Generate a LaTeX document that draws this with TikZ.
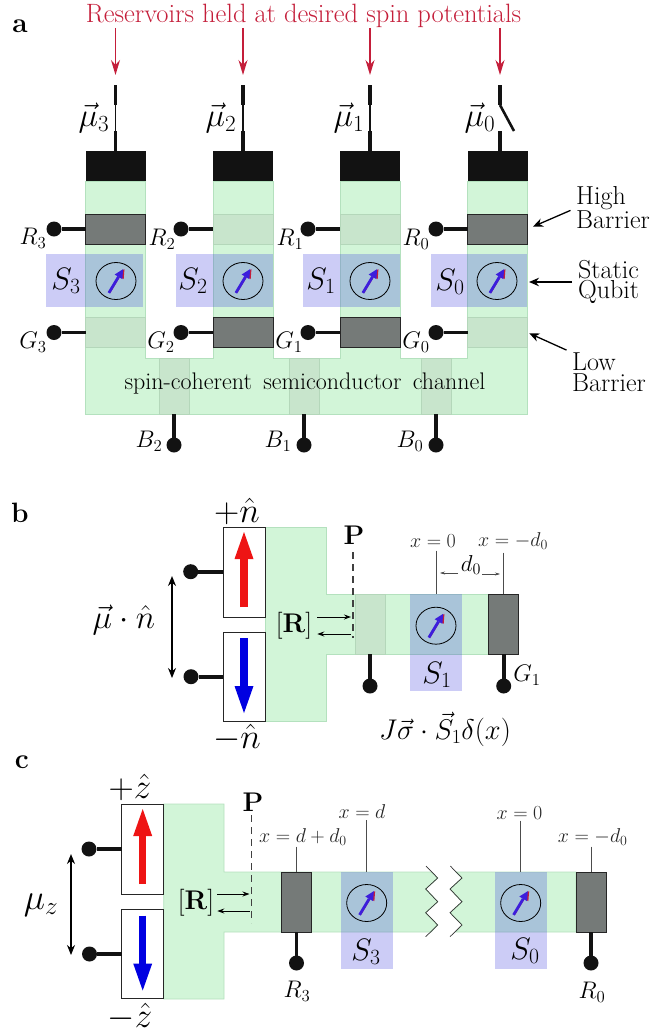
\documentclass[tikz,border=0pt]{standalone}
\usepackage{fix-cm}
\usepackage{xcolor}
\usepackage{tikz}
\usetikzlibrary{arrows.meta,shapes.geometric}
\definecolor{chgreen}{RGB}{210,245,216}
\definecolor{chedge}{RGB}{180,225,190}
\definecolor{lowgate}{RGB}{200,229,204}
\definecolor{lowedge}{RGB}{180,215,186}
\definecolor{highgate}{RGB}{117,122,120}
\definecolor{qubitblue}{RGB}{50,50,220}
\definecolor{resred}{RGB}{196,30,58}
\definecolor{spinred}{RGB}{238,20,20}
\definecolor{spinblue}{RGB}{0,0,225}
\definecolor{dialblue}{RGB}{60,30,220}

\begin{document}
\begin{tikzpicture}[
  x=1pt, y=-1pt,
  channel/.style={fill=chgreen, draw=chedge, line width=0.8pt},
  barbox/.style={rectangle, minimum width=60pt, minimum height=30pt, inner sep=0pt, outer sep=0pt},
  high/.style={barbox, fill=highgate, draw=black!85, line width=0.9pt},
  low/.style={barbox, fill=lowgate, draw=lowedge, line width=0.6pt},
  capbox/.style={barbox, fill=black!93},
  qubit/.style={rectangle, fill=qubitblue, fill opacity=0.25, inner sep=0pt, outer sep=0pt},
  dial/.style={ellipse, draw, line width=0.8pt, minimum width=40pt, minimum height=37pt, inner sep=0pt, outer sep=0pt},
  spin/.style={line width=2.8pt, dialblue, -{Triangle[width=9pt,length=9pt,line width=0pt]}, shorten <=5pt, shorten >=5pt,
               preaction={draw=resred, transform canvas={xshift=1.3pt}}},
  dot/.style={circle, fill=black!93, minimum size=15pt, inner sep=0pt, outer sep=0pt},
  wire/.style={line width=3.8pt, black!93},
  thinwire/.style={line width=1.4pt, black!93},
  resarrow/.style={-{Stealth[length=15pt,width=9pt]}, line width=1.3pt, resred},
  pointer/.style={-{Stealth[length=10pt,width=8.5pt]}, line width=1.3pt},
  darrow/.style={{Stealth[length=10pt,width=8pt]}-{Stealth[length=10pt,width=8pt]}, line width=1.3pt},
  rarrow/.style={-{Stealth[length=7pt,width=5pt]}, line width=1pt},
  dimarrow/.style={-{Stealth[length=5pt,width=3pt]}, line width=0.5pt, black!70},
  tick/.style={line width=1pt, black!70},
  pline/.style={dashed, dash pattern=on 7pt off 5pt, line width=1.1pt, black!75},
  spinbox/.style={rectangle, draw=black!85, fill=white, line width=0.9pt, minimum width=42pt, minimum height=90pt, inner sep=0pt, outer sep=0pt},
  uparrow/.style={line width=7.5pt, spinred, -{Triangle[width=19pt,length=27pt,line width=0pt]}, shorten <=10pt, shorten >=5pt},
  downarrow/.style={line width=7.5pt, spinblue, -{Triangle[width=19pt,length=27pt,line width=0pt]}, shorten <=6pt, shorten >=8pt},
  panel/.style={font=\fontsize{28}{28}\selectfont\bfseries, inner sep=0pt},
  plain/.style={font=\fontsize{26}{20.5}\selectfont, align=left, inner sep=0pt},
  bigmath/.style={font=\fontsize{31}{31}\selectfont, inner sep=0pt},
  hatlab/.style={font=\fontsize{35}{35}\selectfont, inner sep=0pt},
  gatelab/.style={font=\fontsize{24}{24}\selectfont, inner sep=0pt},
  xlab/.style={font=\fontsize{20}{20}\selectfont, inner sep=0pt, black!85},
  rlab/.style={font=\fontsize{27}{27}\selectfont, inner sep=0pt},
]
  \useasboundingbox (0,0) rectangle (649,1034);

  %%% panel a
  \node[panel] (la) at (20,26) {a};
  \fill[channel] (85.5,181) -- (145.5,181) -- (145.5,358) -- (213,358) -- (213,181) -- (273,181)
    -- (273,358) -- (340,358) -- (340,181) -- (400,181) -- (400,358) -- (467.5,358) -- (467.5,181)
    -- (527,181) -- (527,414) -- (85.5,414) -- cycle;

  % Reservoir caps
  \node[capbox] (cap3) at (115.5,166) {};
  \node[capbox] (cap2) at (243,166) {};
  \node[capbox] (cap1) at (370,166) {};
  \node[capbox] (cap0) at (497.5,166) {};

  % Upper barriers
  \node[high] (rb3) at (115.5,229) {};
  \node[low] (rb2) at (243,229) {};
  \node[low] (rb1) at (370,229) {};
  \node[high] (rb0) at (497.5,229) {};

  % Lower barriers
  \node[low] (gb3) at (115.5,332.5) {};
  \node[high] (gb2) at (243,332.5) {};
  \node[high] (gb1) at (370,332.5) {};
  \node[low] (gb0) at (497.5,332.5) {};

  % Channel barriers
  \node[low, minimum width=30pt, minimum height=56pt] (bb2) at (174,386) {};
  \node[low, minimum width=30pt, minimum height=56pt] (bb1) at (304,386) {};
  \node[low, minimum width=30pt, minimum height=56pt] (bb0) at (436,386) {};

  % Qubits
  \node[qubit, minimum width=97pt, minimum height=53pt] (sq3) at (94.5,280.5) {};
  \node[qubit, minimum width=97pt, minimum height=53pt] (sq2) at (224.5,280.5) {};
  \node[qubit, minimum width=97pt, minimum height=53pt] (sq1) at (351.5,280.5) {};
  \node[qubit, minimum width=96pt, minimum height=53pt] (sq0) at (479,280.5) {};
  \node[dial] (dl3) at (116,281) {};
  \node[dial] (dl2) at (243,281) {};
  \node[dial] (dl1) at (370,281) {};
  \node[dial] (dl0) at (497,281) {};
  \draw[spin] (dl3.239) -- (dl3.59);
  \draw[spin] (dl2.239) -- (dl2.59);
  \draw[spin] (dl1.239) -- (dl1.59);
  \draw[spin] (dl0.239) -- (dl0.59);
  \node[bigmath] (ls3) at (66,281) {$S_3$};
  \node[bigmath] (ls2) at (193,281) {$S_2$};
  \node[bigmath] (ls1) at (321,281) {$S_1$};
  \node[bigmath] (ls0) at (450,282) {$S_0$};

  % Gate contacts
  \node[dot] (rd3) at (54,229) {};
  \node[dot] (rd2) at (181,229) {};
  \node[dot] (rd1) at (308,229) {};
  \node[dot] (rd0) at (436,229) {};
  \node[dot] (gd3) at (54,332.5) {};
  \node[dot] (gd2) at (181,332.5) {};
  \node[dot] (gd1) at (308,332.5) {};
  \node[dot] (gd0) at (436,332.5) {};
  \node[dot] (bd2) at (174,445) {};
  \node[dot] (bd1) at (304,445) {};
  \node[dot] (bd0) at (436,445) {};
  \draw[wire] (rd3) -- (rb3);
  \draw[wire] (rd2) -- (rb2);
  \draw[wire] (rd1) -- (rb1);
  \draw[wire] (rd0) -- (rb0);
  \draw[wire] (gd3) -- (gb3);
  \draw[wire] (gd2) -- (gb2);
  \draw[wire] (gd1) -- (gb1);
  \draw[wire] (gd0) -- (gb0);
  \draw[wire] (bb2.south) -- (bd2);
  \draw[wire] (bb1.south) -- (bd1);
  \draw[wire] (bb0.south) -- (bd0);
  \node[gatelab] (lr3) at (33,238) {$R_3$};
  \node[gatelab] (lr2) at (162,239) {$R_2$};
  \node[gatelab] (lr1) at (290,239) {$R_1$};
  \node[gatelab] (lr0) at (416,239) {$R_0$};
  \node[gatelab] (lg3) at (33,342) {$G_3$};
  \node[gatelab] (lg2) at (161,342) {$G_2$};
  \node[gatelab] (lg1) at (289,342) {$G_1$};
  \node[gatelab] (lg0) at (416,342) {$G_0$};
  \node[gatelab] (lb2) at (149,441) {$B_2$};
  \node[gatelab] (lb1) at (278,441) {$B_1$};
  \node[gatelab] (lb0) at (410,441) {$B_0$};
  \node[font=\fontsize{24}{24}\selectfont, inner sep=0pt] (chan) at (305,384) {spin-coherent\, semiconductor\, channel};

  % Reservoir leads
  \coordinate (ta3) at (115.5,85);
  \coordinate (tb3) at (115.5,105);
  \coordinate (tc3) at (115.5,131);
  \coordinate (ta2) at (243,85);
  \coordinate (tb2) at (243,105);
  \coordinate (tc2) at (243,131);
  \coordinate (ta1) at (370,85);
  \coordinate (tb1) at (370,105);
  \coordinate (tc1) at (370,131);
  \coordinate (ta0) at (500,85);
  \coordinate (tb0) at (500,105);
  \coordinate (tc0) at (500,131);
  \coordinate (sw0) at (514,131);
  \draw[wire] (ta3) -- (tb3);
  \draw[thinwire] (tb3) -- (tc3);
  \draw[wire] (tc3) -- (cap3.north -| tc3);
  \draw[wire] (ta2) -- (tb2);
  \draw[thinwire] (tb2) -- (tc2);
  \draw[wire] (tc2) -- (cap2.north -| tc2);
  \draw[wire] (ta1) -- (tb1);
  \draw[thinwire] (tb1) -- (tc1);
  \draw[wire] (tc1) -- (cap1.north -| tc1);
  \draw[wire] (ta0) -- (tb0);
  \draw[line width=2.6pt, black!93] (tb0) -- (sw0);
  \draw[wire] (tc0) -- (cap0.north -| tc0);
  \node[font=\fontsize{33}{33}\selectfont, inner sep=0pt] (mu3) at (94,118) {$\vec{\mu}_3$};
  \node[font=\fontsize{33}{33}\selectfont, inner sep=0pt] (mu2) at (221,118) {$\vec{\mu}_2$};
  \node[font=\fontsize{33}{33}\selectfont, inner sep=0pt] (mu1) at (349,118) {$\vec{\mu}_1$};
  \node[font=\fontsize{33}{33}\selectfont, inner sep=0pt] (mu0) at (480,118) {$\vec{\mu}_0$};

  % Title and its arrows
  \node[font=\fontsize{26.5}{26.5}\selectfont, inner sep=0pt, text=resred] (title) at (303.5,16) {Reservoirs held at desired spin potentials};
  \draw[resarrow, shorten >=10pt] (title.south -| ta3) -- (ta3);
  \draw[resarrow, shorten >=10pt] (title.south -| ta2) -- (ta2);
  \draw[resarrow, shorten >=10pt] (title.south -| ta1) -- (ta1);
  \draw[resarrow, shorten >=10pt] (title.south -| ta0) -- (ta0);

  % Side labels
  \node[plain, anchor=west] (lhigh) at (576,208) {High\\Barrier};
  \node[plain, anchor=west] (lstat) at (578,282) {Static\\Qubit};
  \node[plain, anchor=west] (llow) at (572,372) {Low\\Barrier};
  \draw[pointer, shorten <=6pt, shorten >=6pt] (lhigh.west) -- (rb0.east);
  \draw[pointer, shorten <=6pt, shorten >=2pt] (lstat.west) -- (sq0.east |- lstat.west);
  \draw[pointer, shorten <=6pt, shorten >=2pt] (llow.north west) -- (gb0.east);

  %%% panel b
  \node[panel] (lbb) at (20,513) {b};
  \fill[channel] (265,527) -- (326,527) -- (326,594) -- (489,594) -- (489,654) -- (326,654) -- (326,721) -- (265,721) -- cycle;
  \node[spinbox] (bup) at (244,572) {};
  \node[spinbox, minimum height=89pt] (bdown) at (244,676.5) {};
  \draw[uparrow] (bup.south) -- (bup.north);
  \draw[downarrow] (bdown.north) -- (bdown.south);
  \node[low, minimum width=30pt, minimum height=60pt] (blow) at (370,624) {};
  \node[high, minimum width=30pt, minimum height=60pt] (bhigh) at (503.7,624) {};
  \node[qubit, minimum width=52pt, minimum height=97pt] (bsq) at (436,642.5) {};
  \node[dial] (bdl) at (436,625.7) {};
  \draw[spin] (bdl.239) -- (bdl.59);
  \node[bigmath] (bs1) at (437,675) {$S_1$};

  \node[dot] (bdu) at (190.7,571.7) {};
  \node[dot] (bdd) at (191,676.7) {};
  \node[dot] (bdl1) at (370,686) {};
  \node[dot] (bdg1) at (503.7,686) {};
  \draw[wire] (bdu) -- (bup.west |- bdu);
  \draw[wire] (bdd) -- (bdown.west |- bdd);
  \draw[wire] (blow.south) -- (bdl1);
  \draw[wire] (bhigh.south) -- (bdg1);
  \node[gatelab] (bg1) at (527,675) {$G_1$};

  \coordinate (bmt) at (172,576);
  \coordinate (bmb) at (172,678);
  \draw[darrow] (bmt) -- (bmb);
  \node[font=\fontsize{33}{33}\selectfont, inner sep=0pt] (bmu) at (124,620) {$\vec{\mu}\cdot\hat{n}$};
  \node[hatlab] (bpn) at (237,511) {$+\hat{n}$};
  \node[hatlab] (bmn) at (237,738) {$-\hat{n}$};

  % Reflection plane
  \node[font=\fontsize{27}{27}\selectfont\bfseries, inner sep=0pt] (bp) at (354,535) {P};
  \coordinate (bpt) at (353,552);
  \coordinate (bpb) at (353,638);
  \draw[pline] (bpt) -- (bpb);
  \node[rlab] (br) at (294,626) {$[\mathbf{R}]$};
  \draw[rarrow, shorten <=5pt, shorten >=2pt] ([yshift=9pt]br.east) -- ([yshift=9pt]br.east -| bpt);
  \draw[rarrow, shorten <=2pt, shorten >=5pt] ([yshift=-8pt]br.east -| bpt) -- ([yshift=-8pt]br.east);

  % Distances
  \node[xlab] (bx0) at (433,541) {$x=0$};
  \node[xlab] (bxd) at (513,541) {$x=-d_0$};
  \draw[tick, shorten <=3pt] (bx0.south -| bsq) -- (bsq.north);
  \draw[tick, shorten <=3pt] (bxd.south -| bhigh) -- (bhigh.north);
  \node[font=\fontsize{23}{23}\selectfont, inner sep=0pt] (bd0) at (471,565) {$d_0$};
  \coordinate (bdla) at (458,573);
  \coordinate (bdlb) at (440,573);
  \coordinate (bdra) at (482,574);
  \coordinate (bdrb) at (500,574);
  \draw[dimarrow] (bdla) -- (bdlb);
  \draw[dimarrow] (bdra) -- (bdrb);
  \node[font=\fontsize{28.5}{28.5}\selectfont, inner sep=0pt] (bj) at (445,729) {$J\vec{\sigma}\cdot\vec{S}_1\delta(x)$};

  %%% panel c
  \node[panel] (lc) at (22,762) {c};
  \fill[channel] (163.7,804) -- (224,804) -- (224,872) -- (431,872) -- (437.7,878) -- (425.7,889) -- (437.7,901.7)
    -- (425.7,912.7) -- (437.7,925) -- (431,932) -- (224,932) -- (224,999) -- (163.7,999) -- cycle;
  \fill[channel] (456,872) -- (576,872) -- (576,932) -- (456,932) -- (462,925) -- (450.3,912.7) -- (462,901.7)
    -- (450.3,889) -- (462,878) -- cycle;
  \draw[line width=0.7pt, black!80] (426,866) -- (437.7,878) -- (425.7,889) -- (437.7,901.7) -- (425.7,912.7) -- (437.7,925) -- (425.7,936.7);
  \draw[line width=0.7pt, black!80] (450.3,866) -- (462,878) -- (450,889) -- (462,901.7) -- (450,912.7) -- (462,925) -- (450,936.7);
  \node[spinbox] (cup) at (142.7,849) {};
  \node[spinbox, minimum height=89pt] (cdown) at (142.7,954) {};
  \draw[uparrow] (cup.south) -- (cup.north);
  \draw[downarrow] (cdown.north) -- (cdown.south);
  \node[high, minimum width=30pt, minimum height=60pt] (chr3) at (296.5,902) {};
  \node[high, minimum width=30pt, minimum height=60pt] (chr0) at (591,902) {};
  \node[qubit, minimum width=52pt, minimum height=97pt] (csq3) at (366.7,920.5) {};
  \node[qubit, minimum width=52pt, minimum height=97pt] (csq0) at (520.7,920.5) {};
  \node[dial] (cdl3) at (366.7,903) {};
  \node[dial] (cdl0) at (520.7,903) {};
  \draw[spin] (cdl3.239) -- (cdl3.59);
  \draw[spin] (cdl0.239) -- (cdl0.59);
  \node[bigmath] (cs3) at (366,952) {$S_3$};
  \node[bigmath] (cs0) at (525,951) {$S_0$};

  \node[dot] (cdu) at (89,849) {};
  \node[dot] (cdd) at (89.5,954) {};
  \node[dot] (cdr3) at (296.5,963) {};
  \node[dot] (cdr0) at (591,963) {};
  \draw[wire] (cdu) -- (cup);
  \draw[wire] (cdd) -- (cdown);
  \draw[wire] (chr3.south) -- (cdr3);
  \draw[wire] (chr0.south) -- (cdr0);
  \node[gatelab] (cr3) at (297,991) {$R_3$};
  \node[gatelab] (cr0) at (592,992) {$R_0$};

  \coordinate (cmt) at (71,854);
  \coordinate (cmb) at (71,955);
  \draw[darrow] (cmt) -- (cmb);
  \node[font=\fontsize{36}{36}\selectfont, inner sep=0pt] (cmu) at (41,905) {$\mu_z$};
  \node[hatlab] (cpz) at (130,787) {$+\hat{z}$};
  \node[hatlab] (cmz) at (130,1017) {$-\hat{z}$};

  % Reflection plane
  \node[font=\fontsize{27}{27}\selectfont\bfseries, inner sep=0pt] (cp) at (253,802) {P};
  \coordinate (cpt) at (251.5,815);
  \coordinate (cpb) at (251.5,923);
  \draw[pline] (cpt) -- (cpb);
  \node[rlab] (cr) at (196,903) {$[\mathbf{R}]$};
  \draw[rarrow, shorten <=3pt, shorten >=2pt] ([yshift=9pt]cr.east) -- ([yshift=9pt]cr.east -| cpt);
  \draw[rarrow, shorten <=2pt, shorten >=3pt] ([yshift=-8pt]cr.east -| cpt) -- ([yshift=-8pt]cr.east);

  % Positions
  \node[xlab] (cxa) at (303,837) {$x=d+d_0$};
  \node[xlab] (cxb) at (362,812) {$x=d$};
  \node[xlab] (cxc) at (519.5,813) {$x=0$};
  \node[xlab] (cxd) at (592.7,837) {$x=-d_0$};
  \draw[tick, shorten <=1pt] (cxa.south -| chr3) -- (chr3.north);
  \draw[tick, shorten <=1pt] (cxb.south -| csq3) -- (csq3.north);
  \draw[tick, shorten <=1pt] (cxc.south -| csq0) -- (csq0.north);
  \draw[tick, shorten <=1pt] (cxd.south -| chr0) -- (chr0.north);
\end{tikzpicture}
\end{document}
